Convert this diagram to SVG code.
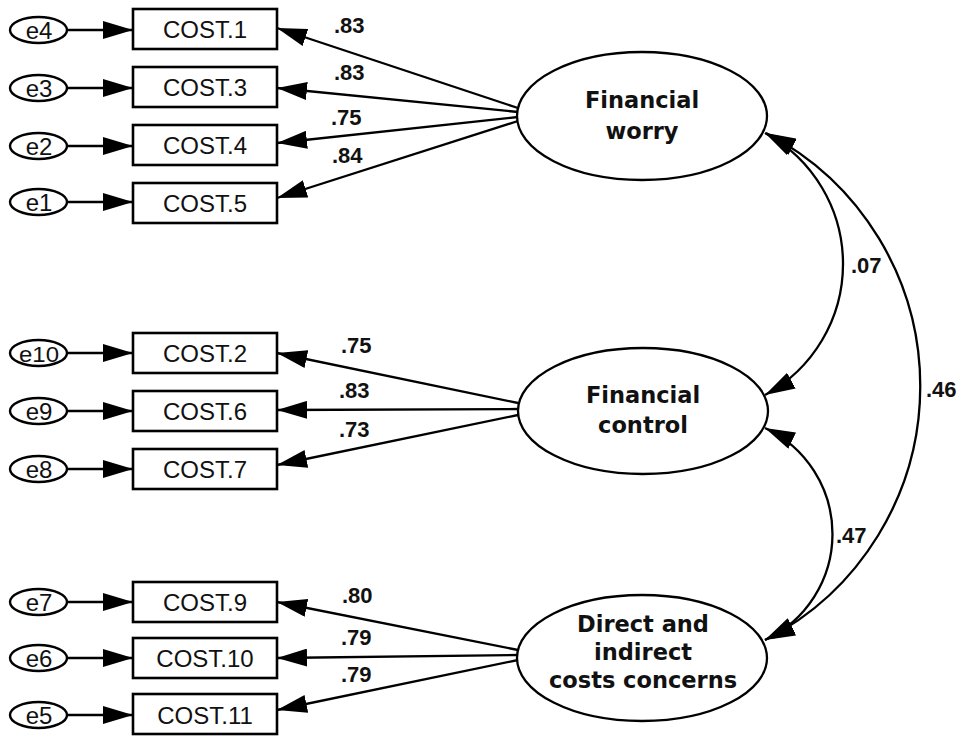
<svg xmlns="http://www.w3.org/2000/svg" width="962" height="736" viewBox="0 0 962 736">
<style>
.box{fill:#fff;stroke:#000;stroke-width:2.6}
.err{fill:#fff;stroke:#000;stroke-width:2.4}
.lat{fill:#fff;stroke:#000;stroke-width:2.3}
.t{font-family:"Liberation Sans",Arial,sans-serif;font-size:24px;fill:#111;text-anchor:middle}
.lt{font-family:"DejaVu Sans",Verdana,sans-serif;font-weight:bold;font-size:22.5px;fill:#111;text-anchor:middle}
.num{font-family:"Liberation Sans",Arial,sans-serif;font-weight:bold;font-size:22px;fill:#111}
.c{fill:none;stroke:#000;stroke-width:2.3}
</style>
<defs>
<marker id="ah" markerUnits="userSpaceOnUse" markerWidth="30" markerHeight="18" viewBox="0 0 30 18" refX="30" refY="9" orient="auto-start-reverse">
<path d="M0,0 L30,9 L0,18 Z" fill="#000"/>
</marker>
</defs>
<rect width="962" height="736" fill="#fff"/>

<g id="connectors">
<path class="c" d="M67,30 H133" marker-end="url(#ah)"/>
<path class="c" d="M67,88 H133" marker-end="url(#ah)"/>
<path class="c" d="M67,146 H133" marker-end="url(#ah)"/>
<path class="c" d="M67,202 H133" marker-end="url(#ah)"/>
<path class="c" d="M67,353 H133" marker-end="url(#ah)"/>
<path class="c" d="M67,411 H133" marker-end="url(#ah)"/>
<path class="c" d="M67,469 H133" marker-end="url(#ah)"/>
<path class="c" d="M67,602 H133" marker-end="url(#ah)"/>
<path class="c" d="M67,658 H133" marker-end="url(#ah)"/>
<path class="c" d="M67,715 H133" marker-end="url(#ah)"/>
<path class="c" d="M518,108 L277,28" marker-end="url(#ah)"/>
<path class="c" d="M518,112 L277,88" marker-end="url(#ah)"/>
<path class="c" d="M518,117 L277,143" marker-end="url(#ah)"/>
<path class="c" d="M518,121 L277,198" marker-end="url(#ah)"/>
<path class="c" d="M518,403 L277,353" marker-end="url(#ah)"/>
<path class="c" d="M518,409 L277,410" marker-end="url(#ah)"/>
<path class="c" d="M518,415 L277,465" marker-end="url(#ah)"/>
<path class="c" d="M518,650 L277,602" marker-end="url(#ah)"/>
<path class="c" d="M518,655 L277,658" marker-end="url(#ah)"/>
<path class="c" d="M518,660 L277,710" marker-end="url(#ah)"/>
<path class="c" d="M765,133 A149,149 0 0 1 765,395" marker-start="url(#ah)" marker-end="url(#ah)"/>
<path class="c" d="M766,133 A285,285 0 0 1 765,640" marker-start="url(#ah)" marker-end="url(#ah)"/>
<path class="c" d="M765,428 A117,117 0 0 1 765,640" marker-start="url(#ah)" marker-end="url(#ah)"/>
<text class="num" x="334" y="33">.83</text>
<text class="num" x="334" y="80">.83</text>
<text class="num" x="331" y="125">.75</text>
<text class="num" x="332" y="163">.84</text>
<text class="num" x="341" y="353">.75</text>
<text class="num" x="339" y="398">.83</text>
<text class="num" x="339" y="437">.73</text>
<text class="num" x="342" y="603">.80</text>
<text class="num" x="341" y="645">.79</text>
<text class="num" x="341" y="682">.79</text>
<text class="num" x="851" y="273">.07</text>
<text class="num" x="926" y="397">.46</text>
<text class="num" x="836" y="543">.47</text>
</g>

<g id="e4"><ellipse class="err" cx="38.5" cy="30" rx="28.5" ry="13"/><text class="t" x="39" y="39">e4</text></g>
<g id="e3"><ellipse class="err" cx="38.5" cy="88" rx="28.5" ry="13"/><text class="t" x="39" y="97">e3</text></g>
<g id="e2"><ellipse class="err" cx="38.5" cy="146" rx="28.5" ry="13"/><text class="t" x="39" y="155">e2</text></g>
<g id="e1"><ellipse class="err" cx="38.5" cy="202" rx="28.5" ry="13"/><text class="t" x="39" y="211">e1</text></g>
<g id="e10"><ellipse class="err" cx="38.5" cy="353" rx="28.5" ry="13"/><text class="t" x="39" y="361.5" style="font-size:22px" textLength="40" lengthAdjust="spacingAndGlyphs">e10</text></g>
<g id="e9"><ellipse class="err" cx="38.5" cy="411" rx="28.5" ry="13"/><text class="t" x="39" y="420">e9</text></g>
<g id="e8"><ellipse class="err" cx="38.5" cy="469" rx="28.5" ry="13"/><text class="t" x="39" y="478">e8</text></g>
<g id="e7"><ellipse class="err" cx="38.5" cy="602" rx="28.5" ry="13"/><text class="t" x="39" y="611">e7</text></g>
<g id="e6"><ellipse class="err" cx="38.5" cy="658" rx="28.5" ry="13"/><text class="t" x="39" y="667">e6</text></g>
<g id="e5"><ellipse class="err" cx="38.5" cy="715" rx="28.5" ry="13"/><text class="t" x="39" y="724">e5</text></g>

<g id="cost1"><rect class="box" x="133" y="9" width="144" height="40"/><text class="t" x="205" y="38">COST.1</text></g>
<g id="cost3"><rect class="box" x="133" y="67" width="144" height="40"/><text class="t" x="205" y="96">COST.3</text></g>
<g id="cost4"><rect class="box" x="133" y="125" width="144" height="40"/><text class="t" x="205" y="154">COST.4</text></g>
<g id="cost5"><rect class="box" x="133" y="183" width="144" height="40"/><text class="t" x="205" y="212">COST.5</text></g>
<g id="cost2"><rect class="box" x="133" y="333" width="144" height="40"/><text class="t" x="205" y="362">COST.2</text></g>
<g id="cost6"><rect class="box" x="133" y="391" width="144" height="40"/><text class="t" x="205" y="420">COST.6</text></g>
<g id="cost7"><rect class="box" x="133" y="449" width="144" height="40"/><text class="t" x="205" y="478">COST.7</text></g>
<g id="cost9"><rect class="box" x="133" y="582" width="144" height="40"/><text class="t" x="205" y="611">COST.9</text></g>
<g id="cost10"><rect class="box" x="133" y="638" width="144" height="40"/><text class="t" x="205" y="667">COST.10</text></g>
<g id="cost11"><rect class="box" x="133" y="694" width="144" height="40"/><text class="t" x="205" y="724">COST.11</text></g>

<g id="worry"><ellipse class="lat" cx="642" cy="116" rx="125" ry="64"/><text class="lt" x="642" y="108">Financial</text><text class="lt" x="642" y="139">worry</text></g>
<g id="control"><ellipse class="lat" cx="643" cy="411" rx="125" ry="63"/><text class="lt" x="643" y="403">Financial</text><text class="lt" x="643" y="433">control</text></g>
<g id="direct"><ellipse class="lat" cx="642" cy="658" rx="125" ry="63"/><text class="lt" x="643" y="632">Direct and</text><text class="lt" x="643" y="660">indirect</text><text class="lt" x="643" y="688">costs concerns</text></g>
</svg>
